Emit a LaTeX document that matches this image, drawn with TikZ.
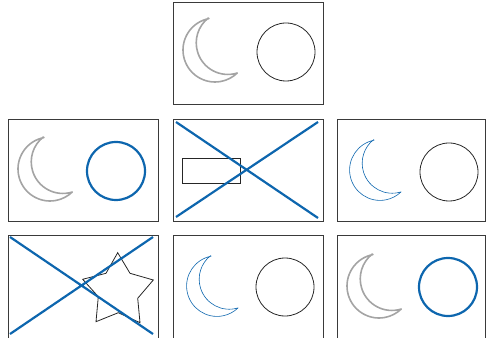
\documentclass[tikz,border=0pt]{standalone}
\usetikzlibrary{arrows.meta}
\definecolor{ink}{HTML}{3A3A3A}
\definecolor{markblue}{HTML}{0D66AE}
\definecolor{haze}{HTML}{8E8E8E}
% crescent with its outer arc centred at (#1,#2)
\newcommand{\moonat}[3]{\draw[shift={(#1,#2)},#3] (101:32) arc[start angle=101,end angle=314,radius=32] arc[start angle=287.3,end angle=128.3,radius=31.6] -- cycle;}

\begin{document}
\begin{tikzpicture}[x=1pt,y=1pt,
  frame/.style={draw=ink,line width=.9pt},
  plain/.style={draw=black!85,line width=.8pt},
  picked/.style={draw=markblue,line width=2.2pt},
  cross/.style={markblue,line width=2.2pt},
  grey moon/.style={haze!80,line width=1.6pt,line join=round},
  blue moon/.style={markblue,line width=.6pt,line join=round,scale=.95}]
\useasboundingbox (0,0) rectangle (486,337);
\clip (0,0) rectangle (486,337);
% panels
\draw[frame] (173,233) rectangle (323,335);
\foreach \x/\w in {8/150,173/150,337/148.5}{
  \draw[frame] (\x,116) rectangle ++(\w,102);
  \draw[frame] (\x,-5) rectangle ++(\w,107);}
% top
\moonat{215}{287}{grey moon}
\draw[plain] (286,285) circle[radius=29];
% middle row
\moonat{50}{168}{grey moon}
\draw[picked] (116,166) circle[radius=29];
\draw[plain] (182,154) rectangle (240,179);
\draw[cross] (176,215) -- (318,119) (176,120) -- (318,215);
\moonat{380}{167}{blue moon}
\draw[plain] (449,165) circle[radius=29];
% bottom row
\draw[plain] (117.7,84.3) -- (130,63.7) -- (153.3,57) -- (137.7,38.7) -- (140,14.3) -- (118.3,24.3) -- (96,15.3) -- (98.3,40.3) -- (82.7,57.7) -- (106,63.7) -- cycle;
\draw[cross] (10,100) -- (153,3) (10,3) -- (153,100);
\moonat{217}{51}{blue moon}
\draw[plain] (285,50) circle[radius=29];
\moonat{379}{51}{grey moon}
\draw[picked] (448,50) circle[radius=29];
\end{tikzpicture}
\end{document}
